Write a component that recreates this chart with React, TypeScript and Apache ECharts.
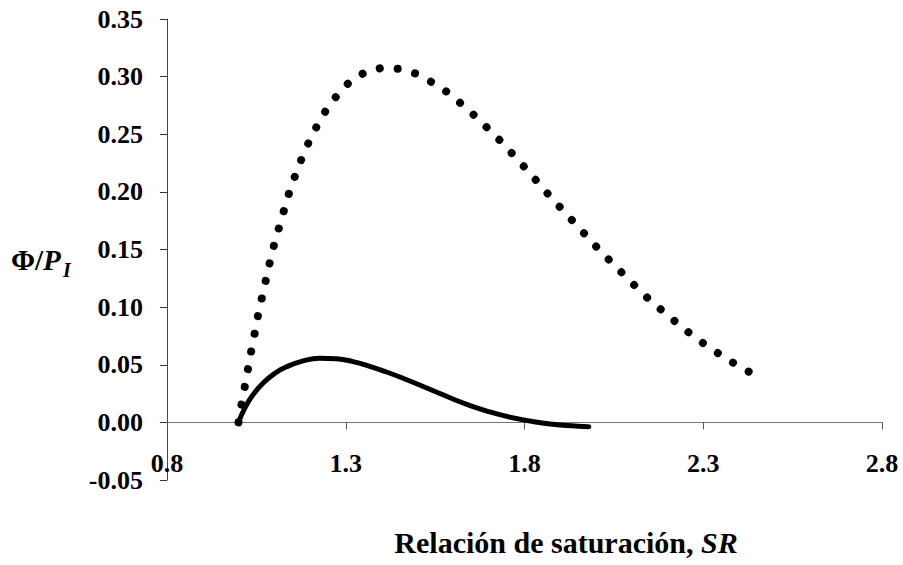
import React, { useEffect, useRef } from "react";
import * as echarts from "echarts";

// Dotted curve (upper)
const dottedSR = [
  1.0, 1.008, 1.017, 1.026, 1.035, 1.045, 1.054, 1.065, 1.076, 1.087, 1.099, 1.113, 1.127,
  1.141, 1.158, 1.176, 1.196, 1.219, 1.244, 1.274, 1.308, 1.351, 1.4, 1.451, 1.5, 1.544,
  1.587, 1.625, 1.664, 1.7, 1.737, 1.77, 1.805, 1.838, 1.871, 1.906, 1.941, 1.975, 2.009,
  2.045, 2.081, 2.117, 2.154, 2.192, 2.232, 2.272, 2.313, 2.356, 2.399, 2.444, 2.455,
];
const dottedPhi = [
  0.0, 0.015, 0.03, 0.0455, 0.061, 0.0767, 0.092, 0.1075, 0.1228, 0.138, 0.1534, 0.1687, 0.1837,
  0.1986, 0.2137, 0.2284, 0.2427, 0.2569, 0.2704, 0.2831, 0.2946, 0.3033, 0.3076, 0.3067, 0.3022,
  0.2946, 0.286, 0.2759, 0.2652, 0.2543, 0.2429, 0.2317, 0.2197, 0.2081, 0.1963, 0.1845, 0.1727,
  0.1612, 0.1497, 0.1384, 0.1272, 0.1159, 0.1052, 0.0952, 0.0848, 0.0749, 0.0657, 0.0571, 0.0487,
  0.0412, 0.039,
];

// Solid curve (lower)
const solidSR = [
  1.0, 1.018, 1.041, 1.069, 1.101, 1.134, 1.181, 1.227, 1.274, 1.32, 1.367, 1.414, 1.46, 1.507,
  1.55, 1.6, 1.65, 1.7, 1.75, 1.8, 1.85, 1.9, 1.95, 1.98,
];
const solidPhi = [
  0.0, 0.0126, 0.0241, 0.0342, 0.0424, 0.0482, 0.0534, 0.0557, 0.0552, 0.0527, 0.0486, 0.0437,
  0.0383, 0.0324, 0.0268, 0.0203, 0.0143, 0.0093, 0.0052, 0.002, -0.0005, -0.0022, -0.0033,
  -0.0038,
];

const xMin = 0.8;
const xMax = 2.8;
const xStep = 0.5;
const yMin = -0.05;
const yMax = 0.35;
const yStep = 0.05;

const xTitleMain = "Relación de saturación, ";
const xTitleItalic = "SR";
const yTitleMain = "Φ/";
const yTitleItalic = "P";
const yTitleSub = "I";

const FONT = '"Liberation Serif", "Times New Roman", serif';

export default function App() {
  const ref = useRef<HTMLDivElement>(null);

  useEffect(() => {
    if (!ref.current) return;
    const chart = echarts.init(ref.current, undefined, { renderer: "svg" });
    const dotted = dottedSR.map((x, i) => [x, dottedPhi[i]]);
    const solid = solidSR.map((x, i) => [x, solidPhi[i]]);

    chart.setOption({
      animation: false,
      backgroundColor: "#ffffff",
      grid: { left: 167, right: 21, top: 19, bottom: 85, containLabel: false },
      xAxis: {
        type: "value",
        min: xMin,
        max: xMax,
        interval: xStep,
        axisLine: { show: true, onZero: true, lineStyle: { color: "#777", width: 1 } },
        axisTick: { show: true, length: 7, inside: false, lineStyle: { color: "#555" } },
        splitLine: { show: false },
        axisLabel: {
          margin: -30,
          color: "#000",
          fontFamily: FONT,
          fontWeight: "bold",
          fontSize: 26,
          formatter: (v: number) => v.toFixed(1),
        },
      },
      yAxis: {
        type: "value",
        min: yMin,
        max: yMax,
        interval: yStep,
        axisLine: { show: true, onZero: false, lineStyle: { color: "#444", width: 1 } },
        axisTick: { show: true, length: 7, inside: false, lineStyle: { color: "#333" } },
        splitLine: { show: false },
        axisLabel: {
          margin: 24,
          color: "#000",
          fontFamily: FONT,
          fontWeight: "bold",
          fontSize: 26,
          formatter: (v: number) => v.toFixed(2),
        },
      },
      series: [
        {
          type: "line",
          data: dotted,
          showSymbol: false,
          symbol: "none",
          lineStyle: { color: "#000", width: 8, type: [0.01, 18], cap: "round", join: "round" },
          z: 3,
        },
        {
          type: "line",
          data: solid,
          showSymbol: false,
          symbol: "none",
          smooth: 0.5,
          lineStyle: { color: "#000", width: 5, type: "solid", cap: "round", join: "round" },
          z: 4,
        },
      ],
      graphic: [
        {
          type: "text",
          x: 566,
          y: 542,
          style: {
            text: `{n|${xTitleMain}}{i|${xTitleItalic}}`,
            align: "center",
            verticalAlign: "middle",
            textAlign: "center",
            textVerticalAlign: "middle",
            rich: {
              n: { fontFamily: FONT, fontWeight: "bold", fontSize: 30, fill: "#000" },
              i: { fontFamily: FONT, fontWeight: "bold", fontStyle: "italic", fontSize: 30, fill: "#000" },
            },
          },
        },
        {
          type: "text",
          x: 11,
          y: 260,
          style: {
            text: `{n|${yTitleMain}}{i|${yTitleItalic}}`,
            align: "left",
            verticalAlign: "middle",
            textAlign: "left",
            textVerticalAlign: "middle",
            rich: {
              n: { fontFamily: FONT, fontWeight: "bold", fontSize: 29, fill: "#000" },
              i: { fontFamily: FONT, fontWeight: "bold", fontStyle: "italic", fontSize: 29, fill: "#000" },
            },
          },
        },
        {
          type: "text",
          x: 63,
          y: 270,
          style: {
            text: yTitleSub,
            fontFamily: FONT,
            fontWeight: "bold",
            fontStyle: "italic",
            fontSize: 20,
            fill: "#000",
            align: "left",
            verticalAlign: "middle",
            textAlign: "left",
            textVerticalAlign: "middle",
          },
        },
      ],
    });

    return () => chart.dispose();
  }, []);

  return (
    <div
      ref={ref}
      style={{ position: "fixed", left: 0, top: 0, width: 903, height: 565, background: "#fff" }}
    />
  );
}
